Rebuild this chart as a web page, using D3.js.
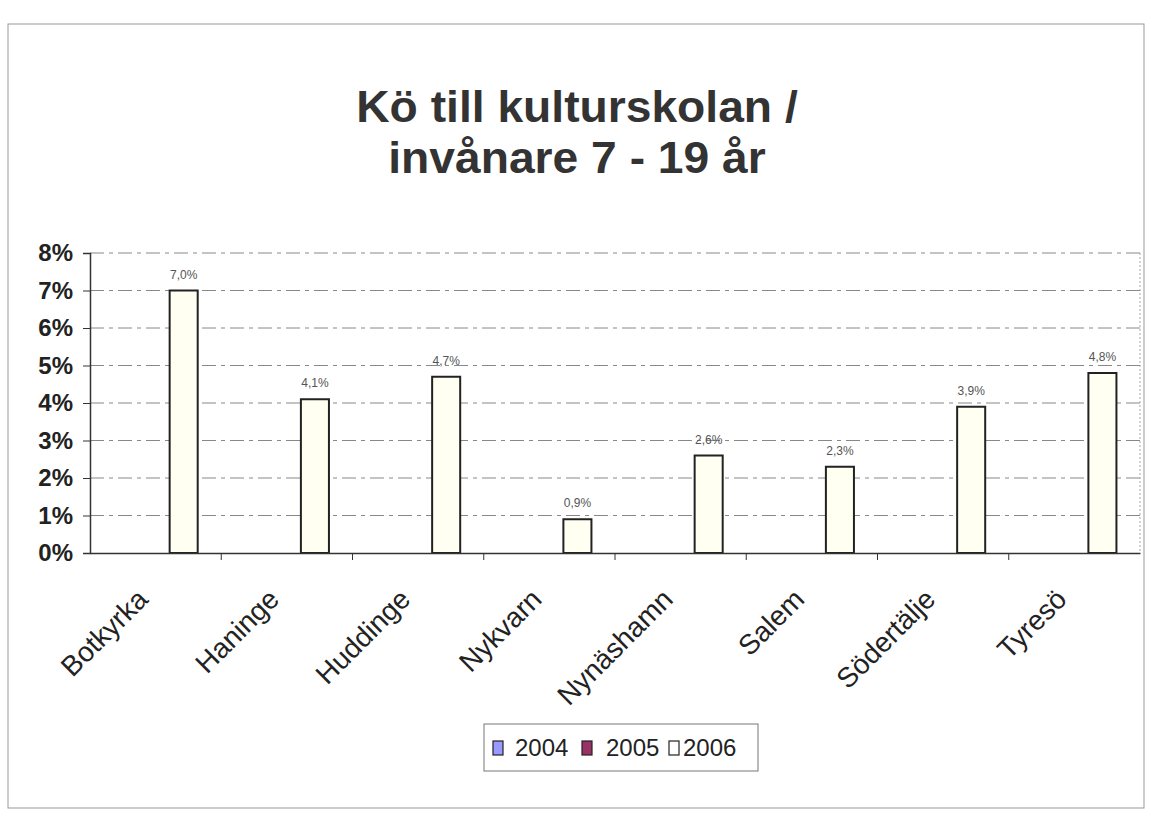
<!DOCTYPE html>
<html>
<head>
<meta charset="utf-8">
<script src="https://cdn.jsdelivr.net/npm/d3@7"></script>
<style>
  body { margin: 0; background: #fff; }
  text { font-family: Arial, "Liberation Sans", sans-serif; }
</style>
</head>
<body>
<div id="chart"></div>
<script>
// data
var kommuner = ['Botkyrka', 'Haninge', 'Huddinge', 'Nykvarn', 'Nynäshamn', 'Salem', 'Södertälje', 'Tyresö'];
var years = ['2004', '2005', '2006'];
var v2004 = [null, null, null, null, null, null, null, null];
var v2005 = [null, null, null, null, null, null, null, null];
var v2006 = [7.0, 4.1, 4.7, 0.9, 2.6, 2.3, 3.9, 4.8];
var yTicks = [0, 1, 2, 3, 4, 5, 6, 7, 8];
var yearColors = ['#9999ff', '#993366', '#fffff2'];

var W = 1149, H = 820;
var margin = { top: 253, right: 9, bottom: 267, left: 90 };

var svg = d3.select('#chart').append('svg').attr('width', W).attr('height', H);

// outer frame of the chart object
svg.append('rect')
  .attr('x', 8).attr('y', 24).attr('width', 1136).attr('height', 784)
  .attr('fill', 'none').attr('stroke', '#999').attr('stroke-width', 1);

// title
var title = svg.append('text')
  .attr('text-anchor', 'middle')
  .attr('font-weight', 'bold')
  .attr('font-size', 44)
  .attr('fill', '#333')
  .attr('transform', 'translate(577,0) scale(1.05,1)');
title.append('tspan').attr('x', 0).attr('y', 122).text('Kö till kulturskolan /');
title.append('tspan').attr('x', 0).attr('y', 173).text('invånare 7 - 19 år');

var x0 = d3.scaleBand().domain(kommuner).range([margin.left, W - margin.right]);
var x1 = d3.scaleBand().domain(years).range([0, x0.bandwidth()]).paddingOuter(0.84).paddingInner(0);
var y = d3.scaleLinear().domain([0, 8]).range([H - margin.bottom, margin.top]);

// plot area border on the right (dotted)
svg.append('line')
  .attr('x1', W - margin.right).attr('x2', W - margin.right)
  .attr('y1', y(8)).attr('y2', y(0))
  .attr('stroke', '#aaa').attr('stroke-dasharray', '2,2');

// gridlines
svg.append('g')
  .selectAll('line')
  .data(yTicks.slice(1))
  .join('line')
  .attr('x1', margin.left).attr('x2', W - margin.right)
  .attr('y1', d => y(d)).attr('y2', d => y(d))
  .attr('stroke', '#888').attr('stroke-width', 1)
  .attr('stroke-dasharray', '14,5,4,5');

// y axis
var yAxis = svg.append('g')
  .attr('transform', 'translate(' + margin.left + ',0)')
  .call(d3.axisLeft(y).tickValues(yTicks).tickFormat(d => d + '%').tickSize(7).tickPadding(10));
yAxis.select('.domain').attr('stroke', '#333').attr('stroke-width', 1.5);
yAxis.selectAll('.tick line').attr('stroke', '#333');
yAxis.selectAll('text')
  .attr('font-size', 24).attr('font-weight', 'bold').attr('fill', '#222');

// bars
var rows = kommuner.map((k, i) => ({ k: k, vals: [v2004[i], v2005[i], v2006[i]] }));
var groups = svg.append('g').selectAll('g')
  .data(rows)
  .join('g')
  .attr('transform', d => 'translate(' + x0(d.k) + ',0)');

groups.selectAll('rect')
  .data(d => d.vals.map((v, j) => ({ year: years[j], v: v, c: yearColors[j] })).filter(e => e.v != null))
  .join('rect')
  .attr('x', e => x1(e.year))
  .attr('width', x1.bandwidth())
  .attr('y', e => y(e.v))
  .attr('height', e => y(0) - y(e.v))
  .attr('fill', e => e.c)
  .attr('stroke', '#222').attr('stroke-width', 2);

var fmt = d3.format('.1f');
groups.selectAll('text.lbl')
  .data(d => d.vals.map((v, j) => ({ year: years[j], v: v })).filter(e => e.v != null))
  .join('text')
  .attr('class', 'lbl')
  .attr('x', e => x1(e.year) + x1.bandwidth() / 2)
  .attr('y', e => y(e.v) - 12)
  .attr('text-anchor', 'middle')
  .attr('font-size', 12)
  .attr('fill', '#555')
  .text(e => fmt(e.v).replace('.', ',') + '%');

// x axis
var xAxis = svg.append('g')
  .attr('transform', 'translate(0,' + y(0) + ')')
  .call(d3.axisBottom(x0).tickSize(0).tickFormat(''));
xAxis.select('.domain').attr('stroke', '#333').attr('stroke-width', 1.5);

// tick marks at category borders
svg.append('g').selectAll('line')
  .data(kommuner.slice(1))
  .join('line')
  .attr('x1', d => x0(d)).attr('x2', d => x0(d))
  .attr('y1', y(0)).attr('y2', y(0) + 7)
  .attr('stroke', '#333');

svg.append('g').selectAll('text')
  .data(kommuner)
  .join('text')
  .attr('transform', d => 'translate(' + (x0(d) + x0.bandwidth() / 2 - 6) + ',' + (y(0) + 48) + ') rotate(-45)')
  .attr('text-anchor', 'end')
  .attr('font-size', 28)
  .attr('fill', '#222')
  .text(d => d);

// legend
var lg = svg.append('g').attr('transform', 'translate(484,724)');
lg.append('rect').attr('width', 274).attr('height', 47)
  .attr('fill', '#fff').attr('stroke', '#777');
var swX = [9, 98, 185];
var txX = [31, 122, 199];
lg.selectAll('rect.sw').data(years).join('rect')
  .attr('class', 'sw')
  .attr('x', (d, i) => swX[i]).attr('y', 17).attr('width', 10).attr('height', 14)
  .attr('fill', (d, i) => i === 2 ? '#fff' : yearColors[i])
  .attr('stroke', '#222').attr('stroke-width', 1.2);
lg.selectAll('text').data(years).join('text')
  .attr('x', (d, i) => txX[i]).attr('y', 32)
  .attr('font-size', 24)
  .attr('fill', '#222')
  .text(d => d);
</script>
</body>
</html>
